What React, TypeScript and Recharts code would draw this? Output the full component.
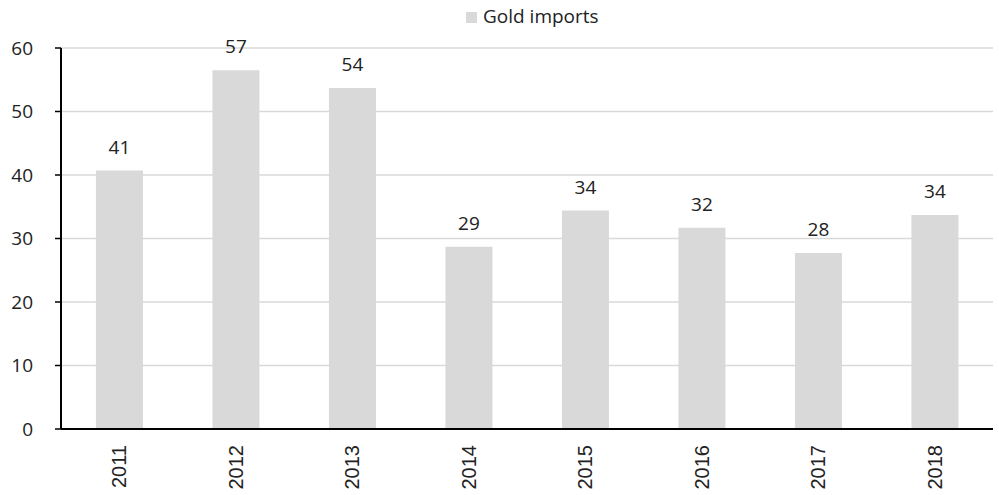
import React from "react";
import {
  BarChart,
  Bar,
  XAxis,
  YAxis,
  CartesianGrid,
  Legend,
  LabelList,
} from "recharts";

// Gold imports by year
const years = ["2011", "2012", "2013", "2014", "2015", "2016", "2017", "2018"];
const goldImports = [40.7, 56.5, 53.7, 28.7, 34.4, 31.7, 27.7, 33.7];
const yTicks = [0, 10, 20, 30, 40, 50, 60];

const chartData = years.map((year, i) => ({ year, value: goldImports[i] }));

const FONT = "'Open Sans', 'DejaVu Sans', sans-serif";
const BAR_COLOR = "#d9d9d9";
const TEXT_COLOR = "#222222";

// rotated year labels under the axis
function YearTick(props: any) {
  const { x, y, payload } = props;
  return (
    <text
      x={x}
      y={y}
      dy="0.36em"
      transform={`rotate(-90, ${x}, ${y})`}
      textAnchor="end"
      fill={TEXT_COLOR}
      fontSize={20}
      fontFamily="'Liberation Sans', Arial, sans-serif"
    >
      {payload.value}
    </text>
  );
}

function LegendContent() {
  return (
    <div
      style={{
        position: "absolute",
        left: 466,
        top: 6,
        display: "flex",
        alignItems: "flex-start",
        fontFamily: FONT,
        fontSize: 19,
        lineHeight: "20px",
        color: TEXT_COLOR,
        whiteSpace: "nowrap",
      }}
    >
      <span
        style={{
          display: "inline-block",
          width: 11,
          height: 11,
          background: BAR_COLOR,
          marginTop: 6,
          marginRight: 6,
        }}
      />
      <span>Gold imports</span>
    </div>
  );
}

export default function App() {
  return (
    <div style={{ position: "absolute", left: 0, top: 0 }}>
      <BarChart
        width={999}
        height={495}
        data={chartData}
        margin={{ top: 18, right: 6, left: 0, bottom: 0 }}
        barCategoryGap="30%"
      >
        <CartesianGrid vertical={false} stroke="#d9d9d9" strokeWidth={1.5} />
        <XAxis
          dataKey="year"
          height={66}
          tickLine={false}
          tickSize={6}
          tickMargin={10}
          axisLine={{ stroke: "#000", strokeWidth: 2 }}
          tick={<YearTick />}
          interval={0}
        />
        <YAxis
          width={61}
          domain={[0, 60]}
          ticks={yTicks}
          tickSize={6}
          tickMargin={22}
          axisLine={{ stroke: "#000", strokeWidth: 2 }}
          tickLine={{ stroke: "#000", strokeWidth: 1.5 }}
          tick={{ fill: TEXT_COLOR, fontSize: 19, fontFamily: FONT }}
        />
        <Legend
          verticalAlign="top"
          content={() => <LegendContent />}
          wrapperStyle={{ top: 0, left: 0, width: 999, height: 30 }}
        />
        <Bar dataKey="value" name="Gold imports" fill={BAR_COLOR} isAnimationActive={false}>
          <LabelList
            dataKey="value"
            position="top"
            offset={17}
            formatter={(v: any) => Math.round(Number(v))}
            fill={TEXT_COLOR}
            fontSize={19}
            fontFamily={FONT}
          />
        </Bar>
      </BarChart>
    </div>
  );
}
